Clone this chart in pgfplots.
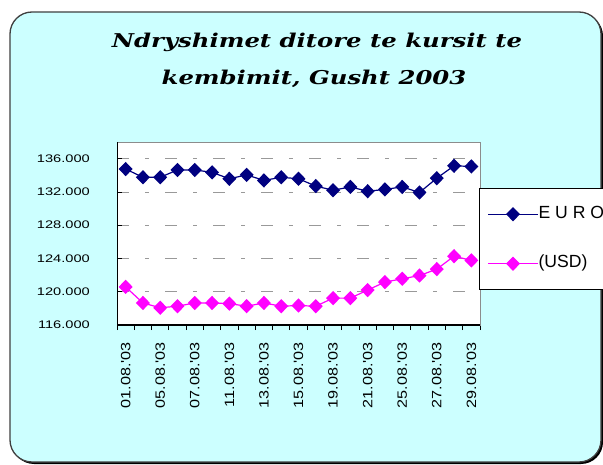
\documentclass[border=0pt]{standalone}
\usepackage{pgfplots}
\pgfplotsset{compat=1.18}
\usepackage{fontspec}
\setmainfont{Liberation Sans}
\newfontfamily\titlefont[FakeStretch=1.28]{DejaVu Serif}
\newfontfamily\yfont[FakeStretch=1.33]{Liberation Sans}
\newfontfamily\xfont[FakeStretch=1.2]{Liberation Sans}
\definecolor{bg}{RGB}{204,255,255}
\definecolor{eur}{RGB}{0,0,128}
\definecolor{usd}{RGB}{255,0,255}
\begin{document}
\begin{tikzpicture}[x=1pt,y=1pt]
\useasboundingbox (0,0) rectangle (603,464);
\clip (0,0) rectangle (603,464);
\fill[white] (0,0) rectangle (603,464);
\fill[black, rounded corners=22pt] (12,0) rectangle (603,450);
\draw[fill=bg, draw=black!75, line width=1.3pt, rounded corners=22pt] (10,2) rectangle (601,452);
\node[anchor=base, inner sep=0pt, font=\titlefont\bfseries\itshape\fontsize{19}{22}\selectfont] at (317,416) {Ndryshimet ditore te kursit te};
\node[anchor=base, inner sep=0pt, font=\titlefont\bfseries\itshape\fontsize{19}{22}\selectfont] at (314,379) {kembimit, Gusht 2003};
\begin{axis}[
  at={(117pt,139pt)}, anchor=south west,
  scale only axis, width=363pt, height=183pt,
  xmin=-0.5, xmax=20.5, ymin=116, ymax=138,
  axis background/.style={fill=white},
  axis line style={draw=black!45, line width=0.8pt},
  xtick={0,2,...,20},
  xticklabels={01.08.'03,05.08.'03,07.08.'03,11.08.'03,13.08.'03,15.08.'03,19.08.'03,21.08.'03,25.08.'03,27.08.'03,29.08.'03},
  minor xtick={-0.5,0.5,...,20.5},
  ytick={116,120,...,136},
  yticklabels={116.000,120.000,124.000,128.000,132.000,136.000},
  tick pos=left,
  tick align=inside,
  major tick length=5pt, minor tick length=5pt,
  every major x tick/.append style={draw=none},
  every minor x tick/.append style={yshift=-5pt, draw=black, line width=0.8pt},
  every major y tick/.append style={draw=black, line width=0.8pt},
  xticklabel style={font=\xfont\fontsize{13.5}{14}\selectfont, rotate=90, anchor=east, inner sep=0pt},
  xticklabel shift=17pt,
  yticklabel style={font=\yfont\fontsize{11}{12}\selectfont, anchor=east, inner sep=0pt},
  yticklabel shift=27pt,
  ymajorgrids,
  major grid style={draw=gray!80, dash pattern=on 12pt off 16pt on 4pt off 16pt, line width=0.8pt},
  legend style={at={(0.997,0.749)}, anchor=north west, draw=black, line width=1pt, fill=white,
    font=\fontsize{17.6}{20}\selectfont, inner xsep=8pt, inner ysep=18pt, row sep=34pt,
    nodes={inner sep=0pt, text height=12pt, text depth=3.5pt},
    /tikz/every even column/.append style={column sep=6pt}},
  legend cell align=left,
  legend image code/.code={\draw[mark repeat=2,mark phase=2,#1] plot coordinates {(0pt,0pt)(25pt,0pt)(50pt,0pt)};},
]
\addplot[eur, line width=1.2pt, mark=diamond*, mark size=6.3pt, mark options={xscale=1.3, solid}] coordinates {
(0,134.75)(1,133.76)(2,133.76)(3,134.64)(4,134.64)(5,134.35)(6,133.58)(7,134.05)(8,133.38)(9,133.76)(10,133.58)(11,132.7)(12,132.2)(13,132.6)(14,132.08)(15,132.3)(16,132.6)(17,131.93)(18,133.65)(19,135.14)(20,135.06)};
\addlegendentry{E U R O}
\addplot[usd, line width=1.2pt, mark=diamond*, mark size=6.3pt, mark options={xscale=1.3, solid}] coordinates {
(0,120.58)(1,118.65)(2,118.07)(3,118.26)(4,118.65)(5,118.65)(6,118.57)(7,118.26)(8,118.65)(9,118.26)(10,118.34)(11,118.26)(12,119.23)(13,119.23)(14,120.2)(15,121.16)(16,121.56)(17,121.94)(18,122.72)(19,124.27)(20,123.77)};
\addlegendentry{(USD)}
\draw[black, line width=1.3pt] (rel axis cs:0,1) -- (rel axis cs:0,0) -- (rel axis cs:1,0);
\end{axis}
\end{tikzpicture}
\end{document}
